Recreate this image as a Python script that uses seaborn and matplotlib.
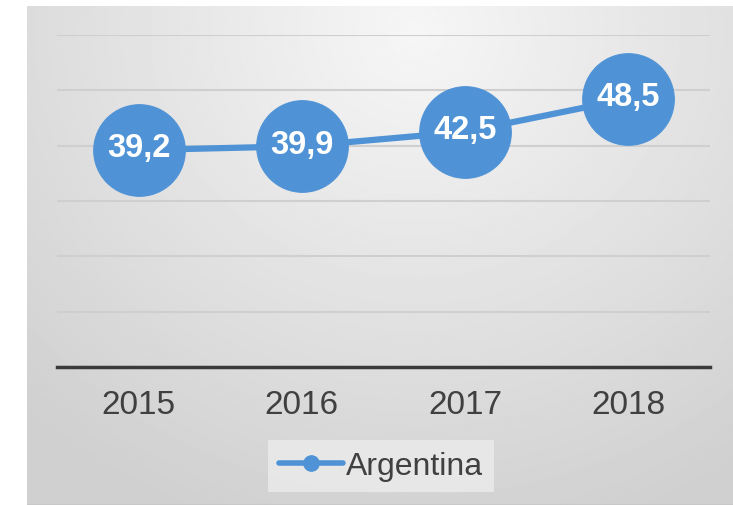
import numpy as np
import pandas as pd
import matplotlib
matplotlib.use("Agg")
import matplotlib.pyplot as plt
from matplotlib.lines import Line2D
import seaborn as sns

years = ["2015", "2016", "2017", "2018"]
values = [39.2, 39.9, 42.5, 48.5]
labels = ["39,2", "39,9", "42,5", "48,5"]
series_name = "Argentina"

blue = "#4f93d6"
df = pd.DataFrame({"year": years, "value": values})

sns.set_theme(style="white")
plt.rcParams["font.family"] = ["Liberation Sans", "DejaVu Sans"]

fig = plt.figure(figsize=(7.33, 5.06), dpi=100)

# gray gradient panel behind the chart
bg = fig.add_axes([27 / 733, 0, 1 - 27 / 733, 1 - 7 / 506])
gx, gy = np.meshgrid(np.linspace(0, 1, 300), np.linspace(0, 1, 300))
dist = np.sqrt(((gx - 0.55) / 0.8) ** 2 + ((gy - 0.05) / 1.05) ** 2)
shade = 0.965 - 0.15 * np.clip(dist, 0, 1)
bg.imshow(shade, cmap="gray", vmin=0, vmax=1, aspect="auto", extent=[0, 1, 1, 0])
bg.axhline(1.0, color="#c8c8c8", lw=2)
bg.set_xlim(0, 1)
bg.set_ylim(1, 0)
bg.axis("off")

ax = fig.add_axes([57 / 733, 1 - 368 / 506, 653 / 733, 332 / 506])
ax.patch.set_alpha(0)

sns.lineplot(data=df, x="year", y="value", ax=ax, color=blue, lw=4.5,
             marker="o", markersize=66, markeredgecolor=blue, clip_on=False,
             sort=False)

for i, (v, t) in enumerate(zip(values, labels)):
    ax.text(i, v + 0.4, t, ha="center", va="center", color="white",
            fontsize=23.5, fontweight="bold")

ax.set_xlim(-0.5, 3.5)
ax.set_ylim(0, 60)
ax.set_yticks(range(0, 61, 10))
ax.yaxis.grid(True, color="#cfcfcf", lw=1.5)
ax.set_axisbelow(True)
ax.tick_params(axis="y", left=False, labelleft=False)
ax.tick_params(axis="x", length=0, pad=16, labelsize=24, labelcolor="#404040")
ax.set_xlabel("")
ax.set_ylabel("")
for s in ["top", "right", "left"]:
    ax.spines[s].set_visible(False)
ax.spines["bottom"].set_color("#3a3a3a")
ax.spines["bottom"].set_linewidth(2.5)

handle = Line2D([], [], color=blue, lw=4, marker="o", markersize=11)
leg = fig.legend([handle], [series_name], loc="center",
                 bbox_to_anchor=(381 / 733, 1 - 467 / 506), frameon=True,
                 fontsize=23, handlelength=2.0, handletextpad=0.1,
                 borderpad=0.35, fancybox=False)
leg.get_frame().set_facecolor("#ececec")
leg.get_frame().set_edgecolor("none")
for txt in leg.get_texts():
    txt.set_color("#404040")

fig.savefig("out.png", dpi=100)
